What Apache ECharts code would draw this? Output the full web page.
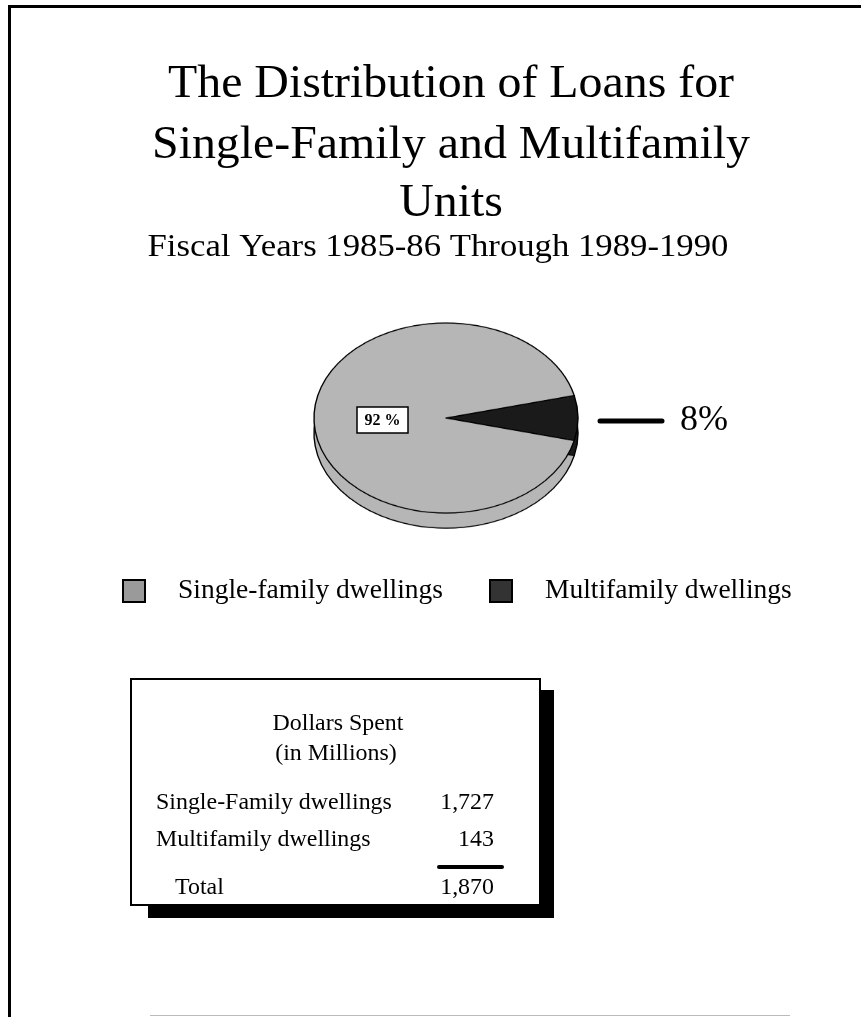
<!DOCTYPE html>
<html>
<head>
<meta charset="utf-8">
<script src="https://cdn.jsdelivr.net/npm/echarts@6/dist/echarts.min.js"></script>
<style>
html,body{margin:0;padding:0;background:#fff;}
#main{position:absolute;left:0;top:0;width:861px;height:1017px;z-index:2;pointer-events:none;}
#pie{position:absolute;left:296px;top:268px;width:300px;height:320px;z-index:1;transform:scaleY(0.72);transform-origin:50% 150px;}
</style>
</head>
<body>
<div id="pie"></div>
<div id="main"></div>
<script>
// data
var categories = ['Single-family dwellings', 'Multifamily dwellings'];
var tableLabels = ['Single-Family dwellings', 'Multifamily dwellings'];
var dollars = [1727, 143];
var titleLines = ['The Distribution of Loans for', 'Single-Family and Multifamily', 'Units'];
var subTitle = 'Fiscal Years 1985-86 Through 1989-1990';

var colors = ['#cacaca', '#2a2a2a'];
var rimColors = ['#b6b6b6', '#1a1a1a'];
var serif = '"Liberation Serif", "DejaVu Serif", serif';

var total = dollars[0] + dollars[1];
var pct = dollars.map(function (v) { return Math.round(v / total * 100); });
function fmt(n) { return n.toString().replace(/\B(?=(\d{3})+(?!\d))/g, ','); }

// pie (drawn in a squashed div to get the ellipse)
var pieChart = echarts.init(document.getElementById('pie'));
var start = 180 * dollars[1] / total;   // centre the small slice on the right
var pieData = [
    { name: categories[1], value: dollars[1] },
    { name: categories[0], value: dollars[0] }
];
pieChart.setOption({
    animation: false,
    series: [
        {
            // side / thickness
            type: 'pie',
            silent: true,
            radius: 132,
            center: [150, 171],
            startAngle: start,
            clockwise: true,
            label: { show: false },
            color: [rimColors[1], rimColors[0]],
            itemStyle: { borderColor: '#000', borderWidth: 1.4 },
            data: pieData,
            z: 1
        },
        {
            type: 'pie',
            silent: true,
            radius: 132,
            center: [150, 150],
            startAngle: start,
            clockwise: true,
            label: { show: false },
            color: [colors[1], colors[0]],
            itemStyle: { borderColor: '#000', borderWidth: 1.4 },
            data: pieData,
            z: 2
        }
    ]
});

// everything else
var myChart = echarts.init(document.getElementById('main'));
var g = [];
function txt(t, x, y, font, align, sx) {
    return { type: 'text', x: x, y: y, scaleX: sx || 1,
        style: { text: t, x: 0, y: 0, textAlign: align || 'center', textVerticalAlign: 'middle', font: font, fill: '#000' } };
}
// frame
g.push({ type: 'line', shape: { x1: 8, y1: 6.5, x2: 861, y2: 6.5 }, style: { stroke: '#000', lineWidth: 3 } });
g.push({ type: 'line', shape: { x1: 9.5, y1: 5, x2: 9.5, y2: 1017 }, style: { stroke: '#000', lineWidth: 3 } });
g.push({ type: 'line', shape: { x1: 150, y1: 1015.5, x2: 790, y2: 1015.5 }, style: { stroke: '#bbb', lineWidth: 1 } });
// titles
var ty = [85, 146, 204];
titleLines.forEach(function (t, i) {
    g.push(txt(t, 451, ty[i], '46px ' + serif, 'center', 1.04));
});
g.push(txt(subTitle, 438, 248, '31px ' + serif, 'center', 1.12));
// pie labels
g.push({ type: 'rect', shape: { x: 357, y: 407, width: 51, height: 26 }, style: { fill: '#fff', stroke: '#000', lineWidth: 1.5 } });
g.push(txt(pct[0] + ' %', 382.5, 420.5, 'bold 16px ' + serif));
g.push({ type: 'line', shape: { x1: 600, y1: 421, x2: 662, y2: 421 }, style: { stroke: '#000', lineWidth: 5, lineCap: 'round' } });
g.push(txt(pct[1] + '%', 680, 421, '36px ' + serif, 'left'));
// legend
var lx = [123, 490];
categories.forEach(function (c, i) {
    g.push({ type: 'rect', shape: { x: lx[i], y: 580, width: 22, height: 22 }, style: { fill: i === 0 ? '#9a9a9a' : '#333', stroke: '#000', lineWidth: 2 } });
    g.push(txt(c, lx[i] + 55, 591, '27.5px ' + serif, 'left'));
});
// table box with shadow
g.push({ type: 'rect', shape: { x: 148, y: 690, width: 406, height: 228 }, style: { fill: '#000' } });
g.push({ type: 'rect', shape: { x: 131, y: 679, width: 409, height: 226 }, style: { fill: '#fff', stroke: '#000', lineWidth: 2 } });
g.push(txt('Dollars Spent', 338, 724, '23px ' + serif, 'center', 1.04));
g.push(txt('(in Millions)', 336, 754, '23px ' + serif, 'center', 1.04));
var rowY = [803, 840];
tableLabels.forEach(function (t, i) {
    g.push(txt(t, 156, rowY[i], '23px ' + serif, 'left', 1.04));
    g.push(txt(fmt(dollars[i]), 494, rowY[i], '23px ' + serif, 'right', 1.04));
});
g.push({ type: 'line', shape: { x1: 439, y1: 867, x2: 502, y2: 867 }, style: { stroke: '#000', lineWidth: 4, lineCap: 'round' } });
g.push(txt('Total', 175, 888, '23px ' + serif, 'left', 1.04));
g.push(txt(fmt(total), 494, 888, '23px ' + serif, 'right', 1.04));

myChart.setOption({
    animation: false,
    graphic: { elements: g }
});
</script>
</body>
</html>
